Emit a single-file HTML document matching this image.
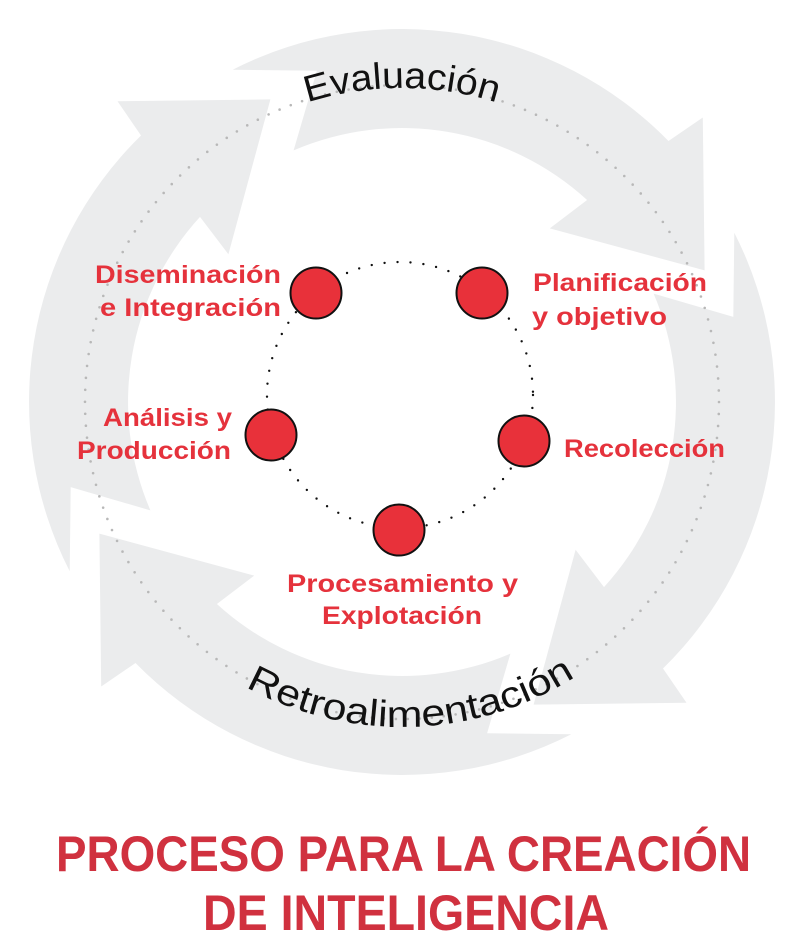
<!DOCTYPE html>
<html><head><meta charset="utf-8"><style>
html,body{margin:0;padding:0;background:#fff;}
svg{display:block;}
.lb{font-family:"Liberation Sans",sans-serif;font-weight:bold;font-size:25px;fill:#e5323c;}
.ar{font-family:"Liberation Sans",sans-serif;font-size:37px;fill:#111;}
.tt{font-family:"Liberation Sans",sans-serif;font-weight:bold;font-size:50px;fill:#d0313f;}
</style></head><body>
<svg width="800" height="948" viewBox="0 0 800 948" xmlns="http://www.w3.org/2000/svg">
<defs>
<path id="arw" d="M232.7,69.7 A373,373 0 0 1 668.5,141 L702.8,117.5 L704.6,270.4 L549.8,228.4 L587.1,200 A274,274 0 0 0 293.6,150.4 L316.9,70.7 Z"/>
<path id="topP" d="M88,402 A314,314 0 0 1 716,402"/>
<path id="botP" d="M77,402 A325,325 0 0 0 727,402"/>
</defs>
<g fill="#ebeced">
<use href="#arw"/>
<use href="#arw" transform="rotate(90 402 402)"/>
<use href="#arw" transform="rotate(180 402 402)"/>
<use href="#arw" transform="rotate(270 402 402)"/>
</g>
<circle cx="402" cy="402" r="317" fill="none" stroke="#b8b8b8" stroke-width="2.6" stroke-linecap="round" stroke-dasharray="0 12"/>
<text class="ar"><textPath href="#topP" startOffset="397" textLength="192" lengthAdjust="spacingAndGlyphs">Evaluación</textPath></text>
<text class="ar"><textPath href="#botP" startOffset="347" textLength="346" lengthAdjust="spacingAndGlyphs">Retroalimentación</textPath></text>

<circle cx="400" cy="395" r="133" fill="none" stroke="#111" stroke-width="2.4" stroke-linecap="round" stroke-dasharray="0 13"/>
<g fill="#e8313a" stroke="#111" stroke-width="2">
<circle cx="316" cy="293" r="25.5"/>
<circle cx="482" cy="293" r="25.5"/>
<circle cx="524" cy="441" r="25.5"/>
<circle cx="399" cy="530" r="25.5"/>
<circle cx="271" cy="435" r="25.5"/>
</g>
<text class="lb" x="95" y="283" textLength="186" lengthAdjust="spacingAndGlyphs">Diseminación</text>
<text class="lb" x="100" y="316" textLength="181" lengthAdjust="spacingAndGlyphs">e Integración</text>
<text class="lb" x="533" y="291" textLength="174" lengthAdjust="spacingAndGlyphs">Planificación</text>
<text class="lb" x="532" y="325" textLength="135" lengthAdjust="spacingAndGlyphs">y objetivo</text>
<text class="lb" x="103" y="426" textLength="129" lengthAdjust="spacingAndGlyphs">Análisis y</text>
<text class="lb" x="77" y="459" textLength="154" lengthAdjust="spacingAndGlyphs">Producción</text>
<text class="lb" x="564" y="457" textLength="161" lengthAdjust="spacingAndGlyphs">Recolección</text>
<text class="lb" x="287" y="592" textLength="231" lengthAdjust="spacingAndGlyphs">Procesamiento y</text>
<text class="lb" x="322" y="624" textLength="160" lengthAdjust="spacingAndGlyphs">Explotación</text>

<text class="tt" x="56" y="871" textLength="695" lengthAdjust="spacingAndGlyphs">PROCESO PARA LA CREACIÓN</text>
<text class="tt" x="203" y="930" textLength="406" lengthAdjust="spacingAndGlyphs">DE INTELIGENCIA</text>
</svg>
</body></html>
